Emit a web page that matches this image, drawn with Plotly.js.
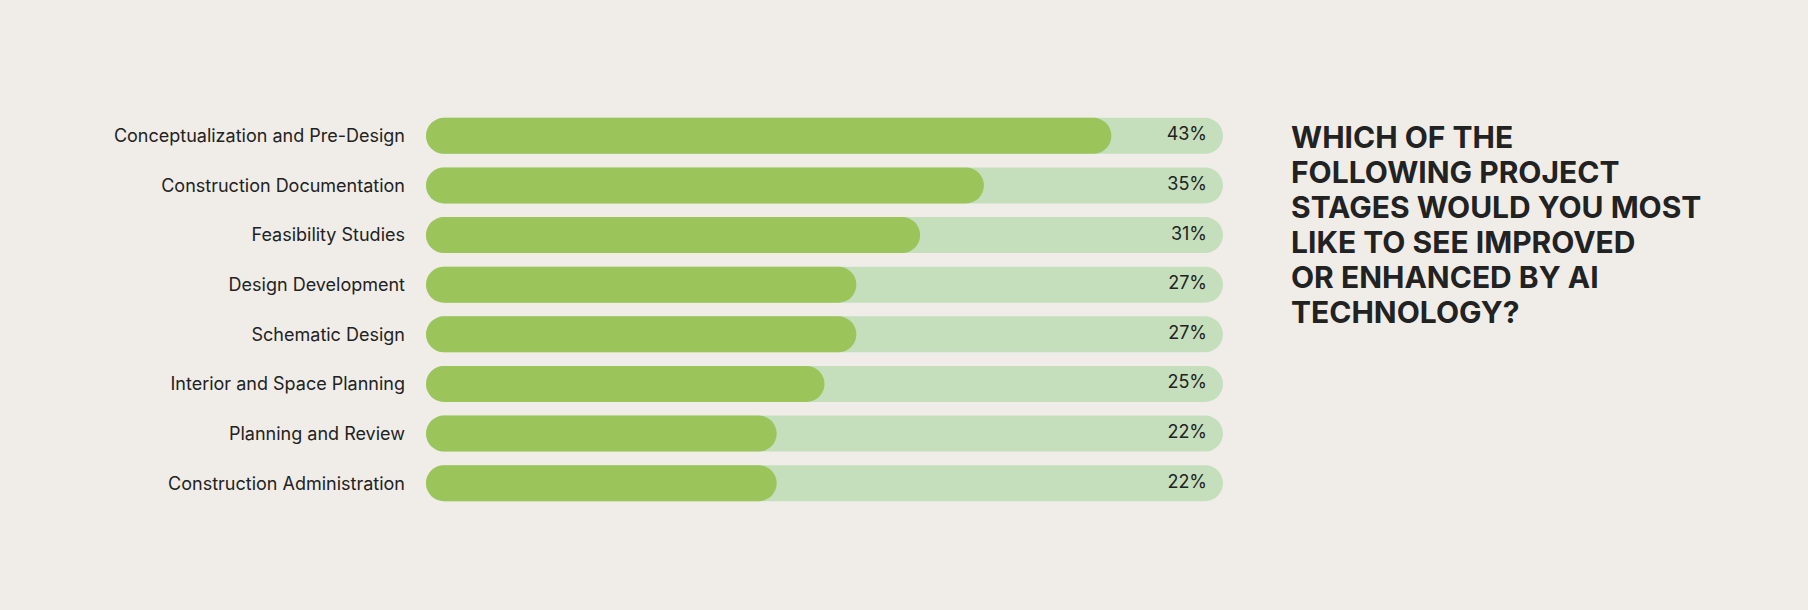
<!DOCTYPE html>
<html>
<head>
<meta charset="utf-8">
<script src="https://cdn.plot.ly/plotly-3.0.1.min.js"></script>
<style>
  html, body { margin: 0; padding: 0; background: #f0ede8; }
  #chart { width: 1808px; height: 610px; }
</style>
</head>
<body>
<div id="chart"></div>
<script>
// Survey results: project stages respondents want improved by AI
const stages = [
  "Conceptualization and Pre-Design",
  "Construction Documentation",
  "Feasibility Studies",
  "Design Development",
  "Schematic Design",
  "Interior and Space Planning",
  "Planning and Review",
  "Construction Administration"
];
const shares = [43, 35, 31, 27, 27, 25, 22, 22];
const shareLabels = ["43%", "35%", "31%", "27%", "27%", "25%", "22%", "22%"];
const trackMax = 50;
const titleLines = [
  "WHICH OF THE",
  "FOLLOWING PROJECT",
  "STAGES WOULD YOU MOST",
  "LIKE TO SEE IMPROVED",
  "OR ENHANCED BY AI",
  "TECHNOLOGY?"
];

const GREEN = "#9bc55a";
const TRACK = "#c5dfbd";
const INK = "#222222";
const RADIUS = 18;  // px, half the bar thickness

// rounded pill bar starting at zero
function pill(lengths, color) {
  return {
    type: "bar", orientation: "h", y: stages, x: lengths,
    base: stages.map(() => 0),
    marker: { color: color, line: { width: 0 }, cornerradius: RADIUS },
    hoverinfo: "skip", showlegend: false
  };
}

const traces = [
  pill(stages.map(() => trackMax), TRACK),
  pill(shares, GREEN),
  {
    type: "scatter", mode: "text",
    x: stages.map(() => trackMax - 1), y: stages,
    text: shareLabels, textposition: "middle left",
    textfont: { family: "Inter, sans-serif", size: 18, color: INK },
    hoverinfo: "skip", showlegend: false, cliponaxis: false
  }
];

// question text, one annotation per line for tight leading
const annotations = titleLines.map((line, i) => ({
  xref: "paper", yref: "paper",
  x: (1289 - 426) / 797, y: 1 + (111 - 137 - i * 35) / 397,
  xanchor: "left", yanchor: "middle",
  text: "<b>" + line + "</b>", showarrow: false,
  font: { family: "Inter, sans-serif", size: 30, color: INK }
}));

const layout = {
  width: 1808, height: 610,
  paper_bgcolor: "#f0ede8", plot_bgcolor: "#f0ede8",
  margin: { l: 426, r: 585, t: 111, b: 102 },
  barmode: "overlay", bargap: 0.274,
  xaxis: { range: [0, trackMax], visible: false, fixedrange: true },
  yaxis: {
    categoryorder: "array", categoryarray: stages, autorange: "reversed",
    showgrid: false, zeroline: false, showline: false, ticks: "",
    ticklabelstandoff: 20,
    tickfont: { family: "Inter, sans-serif", size: 18, color: INK }
  },
  annotations: annotations,
  showlegend: false
};

Plotly.newPlot("chart", traces, layout, { displayModeBar: false, staticPlot: true });
</script>
</body>
</html>
